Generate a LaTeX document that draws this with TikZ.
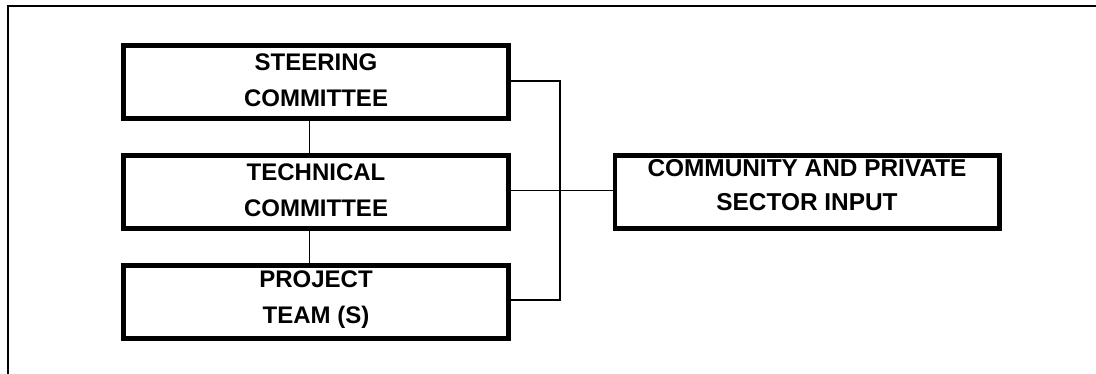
\documentclass[tikz,border=0pt]{standalone}
\usepackage{fontspec}
\setmainfont{Liberation Sans}
\begin{document}
\begin{tikzpicture}[x=0.75pt,y=-0.75pt,
  orgbox/.style={draw=black,line width=3.4pt,fill=white,rectangle,inner sep=0pt},
  boxtext/.style={align=center,font=\fontsize{18}{27}\selectfont\bfseries,inner sep=0pt},
  link/.style={draw=black,line width=0.9pt},
  frame/.style={draw=black,line width=1.6pt}]
\useasboundingbox (0,0) rectangle (1096,374);
% outer frame (only top and left sides visible)
\coordinate (fbl) at (8.3,380);
\coordinate (ftl) at (8.3,6.2);
\coordinate (ftr) at (1100,6.2);
\draw[frame] (fbl) -- (ftl) -- (ftr);
% boxes
\node[orgbox,minimum width=385.5pt*0.75,minimum height=73.3pt*0.75] (steer) at (316,82.1) {};
\node[orgbox,minimum width=385.5pt*0.75,minimum height=73.3pt*0.75] (tech) at (316,191.9) {};
\node[orgbox,minimum width=385.5pt*0.75,minimum height=73.3pt*0.75] (proj) at (316,301.9) {};
\node[orgbox,minimum width=384.5pt*0.75,minimum height=73.3pt*0.75] (comm) at (807.2,191.9) {};
% texts
\node[boxtext] (steert) at (316,80.5) {STEERING\\COMMITTEE};
\node[boxtext] (techt) at (316,190) {TECHNICAL\\COMMITTEE};
\node[boxtext] (projt) at (316,299.5) {PROJECT\\TEAM (S)};
\node[boxtext,font=\fontsize{18.3}{25.2}\selectfont\bfseries] (commt) at (807,185) {COMMUNITY AND PRIVATE\\SECTOR INPUT};
% connectors
\coordinate (jt) at (560,81);
\coordinate (jm) at (560,190.7);
\coordinate (jb) at (560,300);
\draw[link] (steer.east |- jt) -- (jt) -- (jb) -- (proj.east |- jb);
\draw[link] (tech.east |- jm) -- (comm.west |- jm);
\draw[link] (steer.south -| 309.3,0) -- (tech.north -| 309.3,0);
\draw[link] (tech.south -| 309.3,0) -- (proj.north -| 309.3,0);
\end{tikzpicture}
\end{document}
